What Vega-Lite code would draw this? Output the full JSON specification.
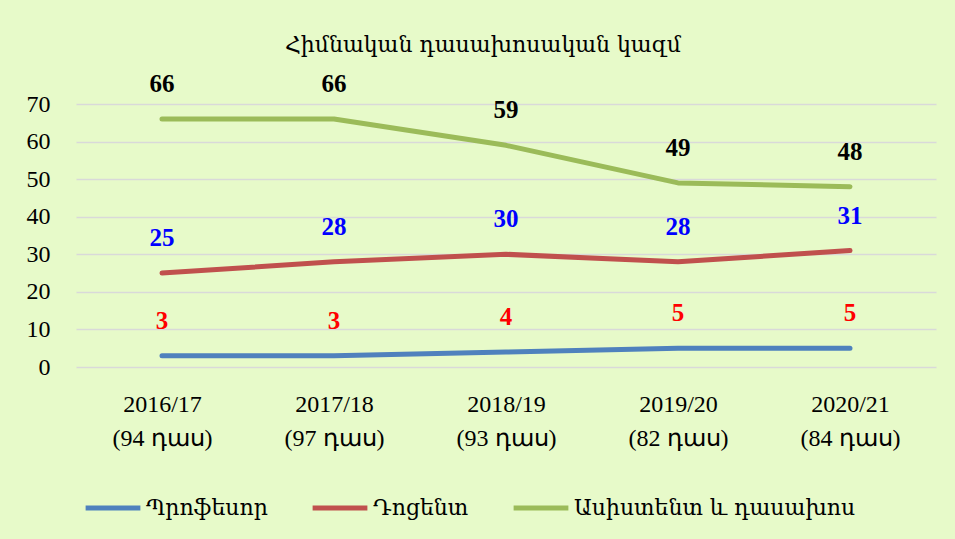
{
  "$schema": "https://vega.github.io/schema/vega-lite/v6.json",
  "width": 860,
  "height": 263,
  "autosize": {"type": "none"},
  "padding": {"left": 76, "top": 104, "right": 19, "bottom": 172},
  "background": "#E7FAC9",
  "title": {
    "text": "Հիմնական դասախոսական կազմ",
    "font": "DejaVu Serif",
    "fontSize": 22,
    "fontWeight": "normal",
    "color": "#000000",
    "anchor": "middle",
    "frame": "bounds",
    "offset": 15,
    "dx": 2
  },
  "data": {
    "values": [
      {"year": "2016/17\n(94 դաս)", "series": "Պրոֆեսոր", "value": 3},
      {"year": "2017/18\n(97 դաս)", "series": "Պրոֆեսոր", "value": 3},
      {"year": "2018/19\n(93 դաս)", "series": "Պրոֆեսոր", "value": 4},
      {"year": "2019/20\n(82 դաս)", "series": "Պրոֆեսոր", "value": 5},
      {"year": "2020/21\n(84 դաս)", "series": "Պրոֆեսոր", "value": 5},
      {"year": "2016/17\n(94 դաս)", "series": "Դոցենտ", "value": 25},
      {"year": "2017/18\n(97 դաս)", "series": "Դոցենտ", "value": 28},
      {"year": "2018/19\n(93 դաս)", "series": "Դոցենտ", "value": 30},
      {"year": "2019/20\n(82 դաս)", "series": "Դոցենտ", "value": 28},
      {"year": "2020/21\n(84 դաս)", "series": "Դոցենտ", "value": 31},
      {"year": "2016/17\n(94 դաս)", "series": "Ասիստենտ և դասախոս", "value": 66},
      {"year": "2017/18\n(97 դաս)", "series": "Ասիստենտ և դասախոս", "value": 66},
      {"year": "2018/19\n(93 դաս)", "series": "Ասիստենտ և դասախոս", "value": 59},
      {"year": "2019/20\n(82 դաս)", "series": "Ասիստենտ և դասախոս", "value": 49},
      {"year": "2020/21\n(84 դաս)", "series": "Ասիստենտ և դասախոս", "value": 48}
    ]
  },
  "encoding": {
    "x": {
      "field": "year",
      "type": "nominal",
      "sort": null,
      "scale": {"type": "point", "padding": 0.5},
      "axis": {
        "title": null,
        "labelAngle": 0,
        "domain": false,
        "ticks": false,
        "labelExpr": "split(datum.label, '\\n')",
        "labelFont": "Liberation Serif",
        "labelFontSize": 24,
        "labelLineHeight": 34,
        "labelColor": "#000000",
        "labelPadding": 25
      }
    },
    "y": {
      "field": "value",
      "type": "quantitative",
      "scale": {"domain": [0, 70], "nice": false},
      "axis": {
        "title": null,
        "values": [0, 10, 20, 30, 40, 50, 60, 70],
        "domain": false,
        "ticks": false,
        "grid": true,
        "gridColor": "#D9D9D9",
        "gridWidth": 1.5,
        "labelFont": "Liberation Serif",
        "labelFontSize": 24,
        "labelColor": "#000000",
        "labelPadding": 26
      }
    }
  },
  "layer": [
    {
      "mark": {"type": "line", "strokeWidth": 5, "strokeCap": "round", "strokeJoin": "round"},
      "encoding": {
        "color": {
          "field": "series",
          "type": "nominal",
          "scale": {
            "domain": ["Պրոֆեսոր", "Դոցենտ", "Ասիստենտ և դասախոս"],
            "range": ["#4F81BD", "#C0504D", "#9BBB59"]
          },
          "legend": {
            "title": null,
            "orient": "none",
            "direction": "horizontal",
            "legendX": 7,
            "legendY": 374,
            "symbolType": "stroke",
            "symbolSize": 3000,
            "symbolStrokeWidth": 5,
            "labelFont": "DejaVu Serif",
            "labelFontSize": 22,
            "labelLimit": 0,
            "labelColor": "#000000",
            "labelOffset": 3,
            "columnPadding": 34
          }
        }
      }
    },
    {
      "mark": {"type": "text", "dy": -35, "fontSize": 25, "fontWeight": "bold", "font": "Liberation Serif"},
      "encoding": {
        "text": {"field": "value", "type": "quantitative"},
        "color": {
          "field": "series",
          "type": "nominal",
          "scale": {
            "domain": ["Պրոֆեսոր", "Դոցենտ", "Ասիստենտ և դասախոս"],
            "range": ["#FF0000", "#0000FF", "#000000"]
          },
          "legend": null
        }
      }
    }
  ],
  "resolve": {"scale": {"color": "independent"}},
  "config": {"view": {"stroke": null}}
}
